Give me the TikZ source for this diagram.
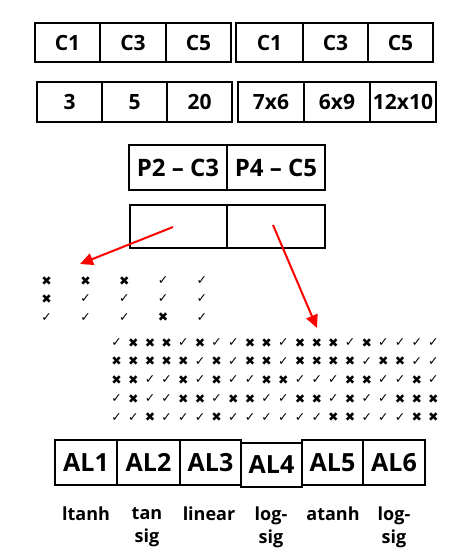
\documentclass[tikz,border=0pt]{standalone}
\usepackage{fontspec}
\setmainfont{Open Sans}
\newfontfamily\symf{DejaVu Sans}
\usetikzlibrary{arrows.meta}
\newcommand\mkcell[7][]{\node[cell,#1, minimum width={(#4-#3)*1pt}, minimum height={(#6-#5)*1pt}] (#2) at ({(#3+#4)/2},{(#5+#6)/2}) {#7};}
\def\markc{✓}
\def\markx{✖}
\tikzset{
  cell/.style={draw, line width=1.8pt, inner sep=0pt, font=\bfseries\fontsize{21}{25}\selectfont},
  pcell/.style={font=\bfseries\fontsize{24}{28}\selectfont},
  alcell/.style={font=\bfseries\fontsize{25}{29}\selectfont},
  lbl/.style={align=center, inner sep=0pt, anchor=north, font=\bfseries\fontsize{18}{23}\selectfont},
  mk/.style={inner sep=0pt, font=\symf\fontsize{12.5}{13}\selectfont},
  redarrow/.style={draw=red, line width=2pt, -{Triangle[length=13pt,width=12pt]}}
}
\begin{document}
\begin{tikzpicture}[x=1pt,y=-1pt]
\useasboundingbox (0,0) rectangle (471,558);
% top row
\mkcell{a1}{35}{100}{23}{62}{C1}
\mkcell{a2}{100}{166}{23}{62}{C3}
\mkcell{a3}{166}{231}{23}{62}{C5}
\mkcell{a4}{236}{303}{23}{62}{C1}
\mkcell{a5}{303}{368}{23}{62}{C3}
\mkcell{a6}{368}{433}{23}{62}{C5}
% second row
\mkcell{b1}{37}{102}{82}{122}{3}
\mkcell{b2}{102}{167}{82}{122}{5}
\mkcell{b3}{167}{232}{82}{122}{20}
\mkcell{b4}{238}{304}{82}{122}{7x6}
\mkcell{b5}{304}{370}{82}{122}{6x9}
\mkcell{b6}{370}{436}{82}{122}{12x10}
% P boxes
\mkcell[pcell]{p1}{129}{227}{145}{190}{P2 \textendash\ C3}
\mkcell[pcell]{p2}{227}{325}{145}{190}{P4 \textendash\ C5}
\mkcell{e1}{130}{227}{205}{248}{}
\mkcell{e2}{227}{325}{205}{248}{}
% arrows
\coordinate (s1) at (173,227);
\coordinate (t1) at (80,264);
\coordinate (s2) at (273,225);
\coordinate (t2) at (317,328);
\draw[redarrow] (s1) -- (t1);
\draw[redarrow] (s2) -- (t2);
% small grid
\foreach \row [count=\j] in {{x,x,x,c,c},{x,c,c,c,c},{c,c,c,x,c}} {
  \foreach \m [count=\i] in \row {
    \node[mk] (s-\j-\i) at ({46.7+38.8*(\i-1)},{280.7+18.3*(\j-1)}) {\csname mark\m\endcsname};
  }
}
% big grid
\foreach \row [count=\j] in {
  {c,x,x,x,c,x,c,c,x,x,c,x,x,x,c,x,c,c,c,c},
  {x,x,x,x,x,c,x,c,x,x,c,x,x,x,x,c,x,x,c,c},
  {x,x,c,c,x,c,x,c,c,x,x,c,c,c,x,x,c,c,x,c},
  {c,x,c,c,x,x,c,x,x,c,c,x,x,c,x,c,c,x,x,x},
  {c,c,x,c,c,c,x,c,c,c,c,c,c,x,x,c,c,c,x,x}} {
  \foreach \m [count=\i] in \row {
    \node[mk] (g-\j-\i) at ({116.7+16.67*(\i-1)},{342.7+18.65*(\j-1)}) {\csname mark\m\endcsname};
  }
}
% AL boxes
\mkcell[alcell]{l1}{55}{117}{440}{485}{AL1}
\mkcell[alcell]{l2}{117}{180}{440}{485}{AL2}
\mkcell[alcell]{l3}{180}{241}{440}{485}{AL3}
\mkcell[alcell]{l4}{241}{302}{443}{487}{AL4}
\mkcell[alcell]{l5}{302}{363}{440}{485}{AL5}
\mkcell[alcell]{l6}{363}{425}{440}{485}{AL6}
% labels
\node[lbl] (n1) at (86,507) {ltanh};
\node[lbl] (n2) at (147,507) {tan\\sig};
\node[lbl] (n3) at (209,507) {linear};
\node[lbl] (n4) at (271,507) {log-\\sig};
\node[lbl] (n5) at (333,507) {atanh};
\node[lbl] (n6) at (394,507) {log-\\sig};
\end{tikzpicture}
\end{document}
